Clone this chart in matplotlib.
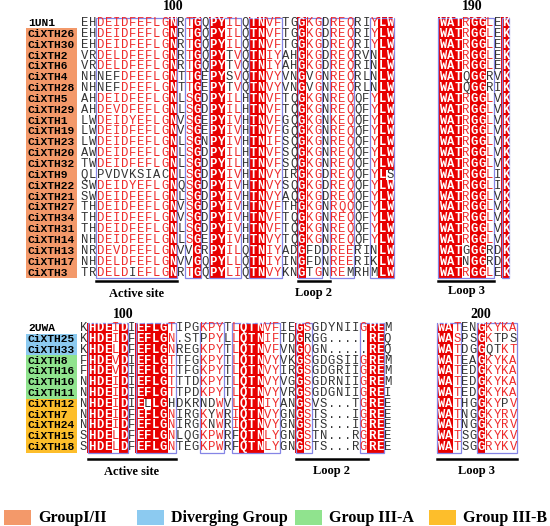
import matplotlib
matplotlib.use('Agg')
import matplotlib.pyplot as plt
from matplotlib.patches import Rectangle
from collections import Counter

# ---- верхнє вирівнювання (1UN1) ----
top_names = ['1UN1', 'CiXTH26', 'CiXTH30', 'CiXTH2', 'CiXTH6', 'CiXTH4', 'CiXTH28',
             'CiXTH5', 'CiXTH29', 'CiXTH1', 'CiXTH19', 'CiXTH23', 'CiXTH20', 'CiXTH32',
             'CiXTH9', 'CiXTH22', 'CiXTH21', 'CiXTH27', 'CiXTH34', 'CiXTH31', 'CiXTH14',
             'CiXTH13', 'CiXTH17', 'CiXTH3']
top_groups = [None] + ['GroupI/II'] * 23
top_left = [
    'EHDEIDFEFLGNRTGQPYILQTNVFTGGKGDREQRIYLW',
    'EHDEIDFEFLGNRTGQPYILQTNVFTGGKGDREQRIYLW',
    'EHDEIDFEFLGNRTGQPYILQTNVFTGGKGDREQRIYLW',
    'VRDELDFEFLGNRTGQPYTVQTNIYAHGKGDREQRVNLW',
    'VRDELDFEFLGNRTGQPYTVQTNIYAHGKGDREQRINLW',
    'NHNEFDFEFLGNTTGEPYSVQTNVYVNGVGNREQRLNLW',
    'NHNEFDFEFLGNTTGEPYTVQTNVYVNGVGNREQRLNLW',
    'AHDEIDFEFLGNLSGDPYILHTNVFTQGKGNREQQFYLW',
    'AHDEVDFEFLGNLSGDPYILHTNVFTQGKGNREQQFYLW',
    'LWDEIDYEFLGNVSGEPYIVHTNVFGQGKGNKEQQFYLW',
    'LWDEIDFEFLGNVSGEPYIVHTNVFGQGKGNREQQFYLW',
    'LWDEIDFEFLGNLSGNPYIVHTNIFSQGKGNREQQFYLW',
    'AWDEIDFEFLGNLSGDPYILHTNVFSQGKGNREQQFYLW',
    'TWDEIDFEFLGNLSGDPYILHTNVFSQGKGNREQQFYLW',
    'QLPVDVKSIACNLSGDPYIVHTNVYIRGKGDREQQFYLS',
    'SWDEIDYEFLGNQSGDPYIVHTNVYSQGKGDREQQFYLW',
    'SWDEIDFEFLGNLSGDPYIVHTNVYAQGKGDREQQFYLW',
    'THDEIDFEFLGNVSGDPYIVHTNVFTHGKGNRQQQFYLW',
    'THDEIDFEFLGNVSGDPYIVHTNVFTQGKGNREQQFYLW',
    'THDEIDFEFLGNLSGDPYIVHTNVFTQGKGNREQQFYLW',
    'NHDEIDFEFLGNLSGEPYIVHTNVYTQGKGNREQQFYLW',
    'NRDEVDFEFLGNVVGRPYILQTNIYADGFDDREERINLW',
    'NHDELDFEFLGNVVGQPYLLQTNIYINGFDNREERIKLW',
    'TRDELDIEFLGNRTGQPYLIQTNVYKNGTGNREMRHMLW',
]
top_right = ['WATRGGLEK'] * 5 + ['WATQGGRVK', 'WATQGGRIK'] + ['WATRGGLVK'] * 7 + \
            ['WATRGGLIK'] * 2 + ['WATRGGLVK'] * 5 + ['WATGGGRDK', 'WATNGGRDK', 'WATRGGLEK']

# R - ідентичність, s - подібність, . - нічого
top_left_cols = '..sssssssssR.sR.RRss.RRss..Rss.sss..sRR'
top_left_sim = {2: 'D', 3: 'E', 4: 'ILV', 5: 'D', 6: 'FY', 7: 'E', 8: 'F', 9: 'L', 10: 'G',
                13: 'TS', 18: 'ILV', 19: 'ILV', 23: 'VI', 24: 'FY', 28: 'K', 29: 'G',
                31: 'RK', 32: 'EQ', 33: 'QE', 36: 'Y'}
top_left_black = [(5, 3), (6, 3)]
top_left_frames = [(2, 11), (13, 14), (16, 19), (21, 24), (27, 29), (31, 33), (36, 38)]
top_right_cols = 'RRRsRRs.R'
top_right_sim = {3: 'R', 6: 'L'}
top_right_frames = [(0, 6), (8, 8)]

# ---- нижнє вирівнювання (2UWA) ----
bottom_names = ['2UWA', 'CiXTH25', 'CiXTH33', 'CiXTH8', 'CiXTH16', 'CiXTH10', 'CiXTH11',
                'CiXTH12', 'CiXTH7', 'CiXTH24', 'CiXTH15', 'CiXTH18']
bottom_groups = [None] + ['Diverging Group'] * 2 + ['Group III-A'] * 4 + ['Group III-B'] * 5
bottom_left = [
    'KHDEIDIEFLGTIPGKPYTLQTNVFIEGSGDYNIIGREM',
    'KHDEIDFEFLGN.STPPYLLQTNIFTDGRGG.....REQ',
    'KHDELDFEFLGNREGKPYTLQTNVFVNGQGN.....REQ',
    'FHDEVDIEFLGTTFGKPYTLQTNVYVKGSGDGSIIGREM',
    'FHDEVDIEFLGTTFGKPYTLQTNVYIRGSGDGRIIGREM',
    'NHDEIDIEFLGTTTDKPYTLQTNVYVGGSGDRNIIGREM',
    'NHDEIDIEFLGTTPDKPYTLQTNVYVRGSGDGNIIGREI',
    'NHDEIDIELLGHDKRNDWVLQTNIYANGSVS...TGREE',
    'NHDEIDFEFLGNIRGKYWRIQTNVYGNGSTS...IGREE',
    'NHDEIDFEFLGNIRGKNWRIQTNVYGNGSTS...IGREE',
    'SHDELDFEFLGNLQGKPWRFQTNLYGNGSTN...RGREE',
    'SHDELDFEFLGNTEGKPWRFQTNLYGNGSTS...RGREE',
]
bottom_right = ['WATENGKYKA', 'WASPSGKTPS', 'WATDGGQTKT', 'WATEAGKYKA', 'WATEDGKYKA',
                'WATEDGKYKA', 'WATEDGKYKA', 'WATHGGKYPV', 'WATNGGKYRV', 'WATNGGKYRV',
                'WATSGGKYKV', 'WATSGGRYKV']
bottom_left_cols = '.RRRsR.RRRRs...sss.sRRRss..Rs......sRR.'
bottom_left_sim = {4: 'ILV', 11: 'TN', 15: 'K', 16: 'P', 17: 'YW', 19: 'LI', 23: 'VIL',
                   24: 'FY', 28: 'SQ', 35: 'G'}
bottom_left_frames = [(1, 5), (7, 11), (15, 17), (19, 24), (27, 28), (35, 37)]
bottom_right_cols = 'RRs..Rssss'
bottom_right_sim = {2: 'TS', 6: 'KR', 7: 'Y', 8: 'KR', 9: 'ATV'}
bottom_right_frames = [(0, 2), (5, 9)]

legend_names = ['GroupI/II', 'Diverging Group', 'Group III-A', 'Group III-B']
group_colors = {'GroupI/II': '#F3996A', 'Diverging Group': '#8CCAF0',
                'Group III-A': '#90E38E', 'Group III-B': '#FDBE2B'}

RED = '#E80000'
RED_TXT = '#EE2A2A'
BLUE = '#8585E6'
MONO = 'Liberation Mono'
SERIF = 'Liberation Serif'


def draw_block(ax, seqs, cols, sim, frames, x0, dx, y0, dy, black=()):
    n = len(seqs)
    for j, c in enumerate(cols):
        column = [s[j] for s in seqs]
        cons = Counter(column).most_common(1)[0][0]
        for i, aa in enumerate(column):
            x = x0 + j * dx
            y = y0 + i * dy
            if c == 'R' and aa == cons:
                ax.add_patch(Rectangle((x - dx / 2 - 0.15, y - dy / 2 - 0.15), dx + 0.3, dy + 0.3,
                                       facecolor=RED, edgecolor='none', zorder=1))
                ax.text(x, y, aa, color='white', fontsize=8.8, fontweight='bold',
                        family=MONO, ha='center', va='center', zorder=4)
            elif c == 's' and aa in sim[j] and (i, j) not in black:
                ax.text(x, y, aa, color=RED_TXT, fontsize=8.8, family=MONO,
                        ha='center', va='center', zorder=4)
            else:
                ax.text(x, y, aa, color='#333333', fontsize=8.8, family=MONO,
                        ha='center', va='center', zorder=4)
    for a, b in frames:
        ax.add_patch(Rectangle((x0 + a * dx - dx / 2, y0 - dy / 2), (b - a + 1) * dx, n * dy,
                               fill=False, edgecolor=BLUE, linewidth=0.9, zorder=3))


def draw_names(ax, names, groups, y0, dy):
    for i, (nm, g) in enumerate(zip(names, groups)):
        y = y0 + i * dy
        if g is not None:
            ax.add_patch(Rectangle((26, y - dy / 2), 51, dy, facecolor=group_colors[g],
                                   edgecolor='none', zorder=1))
        ax.text(28, y, nm, fontsize=8.1, fontweight='bold', family=MONO,
                ha='left', va='center', zorder=4)


def draw_bar(ax, x0, dx, a, b, ybar, label, ylab):
    ax.plot([x0 + a * dx - dx / 2, x0 + b * dx + dx / 2], [ybar, ybar], color='black', lw=1.8)
    ax.text(x0 + (a + b) / 2 * dx, ylab, label, fontsize=9, fontweight='bold',
            family=SERIF, ha='center', va='center')


fig = plt.figure(figsize=(5.5, 5.26), dpi=100)
ax = fig.add_axes([0, 0, 1, 1])
ax.set_xlim(0, 550)
ax.set_ylim(526, 0)
ax.axis('off')

# верхній блок
TL_X, TL_DX, TR_X, TR_DX = 84.3, 8.05, 442.3, 7.9
T_Y, T_DY = 23, 10.85
draw_names(ax, top_names, top_groups, T_Y, T_DY)
draw_block(ax, top_left, top_left_cols, top_left_sim, top_left_frames, TL_X, TL_DX, T_Y, T_DY,
           top_left_black)
draw_block(ax, top_right, top_right_cols, top_right_sim, top_right_frames, TR_X, TR_DX, T_Y, T_DY)
ax.text(TL_X + 11 * TL_DX, 7, '100', fontsize=10, fontweight='bold', family=SERIF,
        ha='center', va='center')
ax.text(TR_X + 3.8 * TR_DX, 7, '190', fontsize=10, fontweight='bold', family=SERIF,
        ha='center', va='center')
draw_bar(ax, TL_X, TL_DX, 2, 11, 281, 'Active site', 294)
draw_bar(ax, TL_X, TL_DX, 27, 30, 281, 'Loop 2', 293)
draw_bar(ax, TR_X, TR_DX, 0, 6, 281, 'Loop 3', 291)

# нижній блок
BL_X, BL_DX, BR_X, BR_DX = 83.5, 8.0, 440.7, 8.05
B_Y, B_DY = 328.3, 10.8
draw_names(ax, bottom_names, bottom_groups, B_Y, B_DY)
draw_block(ax, bottom_left, bottom_left_cols, bottom_left_sim, bottom_left_frames,
           BL_X, BL_DX, B_Y, B_DY)
draw_block(ax, bottom_right, bottom_right_cols, bottom_right_sim, bottom_right_frames,
           BR_X, BR_DX, B_Y, B_DY)
ax.text(BL_X + 5 * BL_DX, 315, '100', fontsize=10, fontweight='bold', family=SERIF,
        ha='center', va='center')
ax.text(BR_X + 5 * BR_DX, 315, '200', fontsize=10, fontweight='bold', family=SERIF,
        ha='center', va='center')
draw_bar(ax, BL_X, BL_DX, 1, 11, 459, 'Active site', 472)
draw_bar(ax, BL_X, BL_DX, 27, 35, 459, 'Loop 2', 471)
draw_bar(ax, BR_X, BR_DX, 0, 9, 459, 'Loop 3', 471)

# легенда
leg_x = [4, 137, 295, 429]
for x, nm in zip(leg_x, legend_names):
    ax.add_patch(Rectangle((x, 509.5), 27, 15.5, facecolor=group_colors[nm], edgecolor='none'))
    ax.text(x + 34, 517.5, nm, fontsize=11.5, fontweight='bold', family=SERIF,
            ha='left', va='center')

fig.savefig('out.png', dpi=100)
